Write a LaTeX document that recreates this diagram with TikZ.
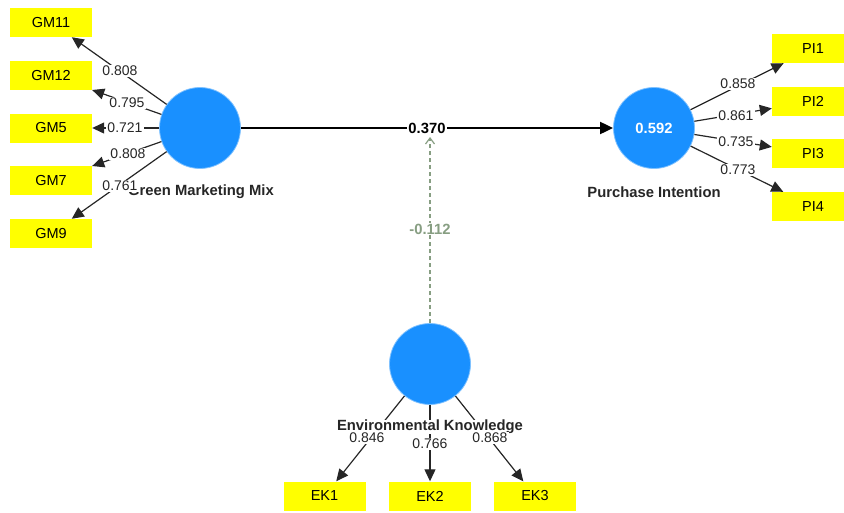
\documentclass[tikz,border=0pt]{standalone}
\usepackage{fontspec}
\setmainfont{Liberation Sans}
\usetikzlibrary{arrows.meta}
\definecolor{lvblue}{RGB}{25,144,255}
\definecolor{mvyellow}{RGB}{255,255,0}
\definecolor{modgray}{RGB}{135,158,130}
\begin{document}
\begin{tikzpicture}[x=1pt,y=-1pt,
  mv/.style={fill=mvyellow, minimum width=82pt, minimum height=29pt, inner sep=0pt, font=\fontsize{14.5}{16}\selectfont},
  lv/.style={circle, fill=lvblue, draw=lvblue!55!white, line width=0.8pt, minimum size=81pt, inner sep=0pt},
  lvname/.style={font=\bfseries\fontsize{14.8}{16}\selectfont, text=black!85, fill=white, inner sep=0.5pt},
  ld/.style={font=\fontsize{14}{16}\selectfont, fill=white, inner sep=1pt, text=black!85},
  ldarrow/.style={draw=black!85, line width=1.2pt, -{Triangle[length=12pt,width=11pt]}},
  patharrow/.style={draw=black, line width=2pt, -{Triangle[length=13pt,width=12pt]}},
  modarrow/.style={draw=modgray, line width=2pt, dash pattern=on 4pt off 3pt, -{Straight Barb[length=6pt,width=9pt,line width=1.2pt]}}
]
\useasboundingbox (0,0) rectangle (844,512);

% latent variables
\node[lv] (gmm) at (200,128) {};
\node[lv] (pi) at (654,128) {\textcolor{white}{\bfseries\fontsize{14.8}{16}\selectfont 0.592}};
\node[lv] (ek) at (430,364) {};

% indicators
\node[mv] (gm11) at (51,22.5) {GM11};
\node[mv] (gm12) at (51,75.5) {GM12};
\node[mv] (gm5) at (51,128) {GM5};
\node[mv] (gm7) at (51,180.5) {GM7};
\node[mv] (gm9) at (51,233.5) {GM9};

\node[mv] (pi1) at (813,48.5) {PI1};
\node[mv] (pi2) at (813,101.5) {PI2};
\node[mv] (pi3) at (813,153.5) {PI3};
\node[mv] (pi4) at (813,206.5) {PI4};

\node[mv] (ek1) at (324.5,496) {EK1};
\node[mv] (ek2) at (430,496) {EK2};
\node[mv] (ek3) at (535,496) {EK3};

% loadings
\draw[ldarrow] (gmm) -- (gm11);
\draw[ldarrow] (gmm) -- (gm12);
\draw[ldarrow] (gmm) -- (gm5);
\draw[ldarrow] (gmm) -- (gm7);
\draw[ldarrow] (gmm) -- (gm9);
\draw[ldarrow] (pi) -- (pi1);
\draw[ldarrow] (pi) -- (pi2);
\draw[ldarrow] (pi) -- (pi3);
\draw[ldarrow] (pi) -- (pi4);
\draw[ldarrow] (ek) -- (ek1);
\draw[ldarrow] (ek) -- (ek2);
\draw[ldarrow] (ek) -- (ek3);

% structural path
\draw[patharrow] (gmm) -- (pi) node[midway, lvname, text=black, inner sep=1pt] (p370) {0.370};

% moderating effect
\coordinate (modtip) at (430,137);
\draw[modarrow] (ek) -- (modtip);
\node[lvname, text=modgray, inner sep=1pt] (p112) at (430,229) {-0.112};

% latent names
\node[lvname] (gmmname) at (201,192) {Green Marketing Mix};
\node[lvname] (piname) at (654,192) {Purchase Intention};
\node[lvname] (ekname) at (430,427) {Environmental Knowledge};

% loading labels
\node[ld] (l1) at (120,71) {0.808};
\node[ld] (l2) at (127,103) {0.795};
\node[ld] (l3) at (125,128) {0.721};
\node[ld] (l4) at (128,154) {0.808};
\node[ld] (l5) at (120,186) {0.761};

\node[ld] (l6) at (738,84) {0.858};
\node[ld] (l7) at (736,116) {0.861};
\node[ld] (l8) at (736,142) {0.735};
\node[ld] (l9) at (738,170) {0.773};

\node[ld] (l10) at (367,438) {0.846};
\node[ld] (l11) at (430,444) {0.766};
\node[ld] (l12) at (490,438) {0.868};
\end{tikzpicture}
\end{document}
